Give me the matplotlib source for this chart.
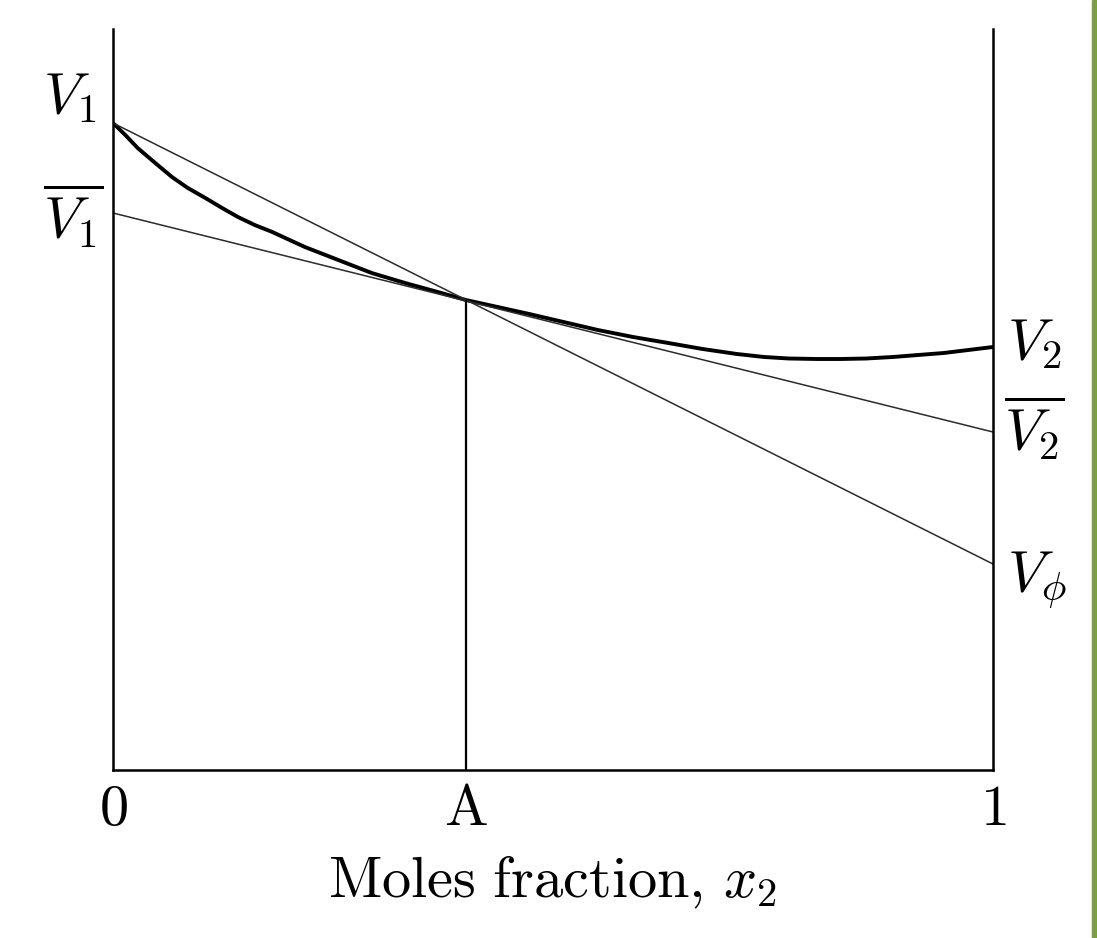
import matplotlib.pyplot as plt
from matplotlib.patches import Rectangle

plt.rcParams['mathtext.fontset'] = 'cm'
plt.rcParams['font.family'] = ['DejaVu Serif']

# Values (arbitrary volume units, axis bottom = 0)
x_A = 0.401
V1 = 6.47
V1_bar = 5.57
V2 = 4.23
V2_bar = 3.38
V_phi = 2.06
y_A = 4.70

# thick curve: molar volume vs mole fraction
curve_x = [0.0, 0.014, 0.028, 0.048, 0.067, 0.085, 0.105, 0.124, 0.142, 0.161,
           0.181, 0.218, 0.256, 0.294, 0.332, 0.369, 0.401, 0.437, 0.473, 0.512,
           0.551, 0.591, 0.631, 0.670, 0.709, 0.740, 0.768, 0.800, 0.827, 0.856,
           0.886, 0.915, 0.944, 0.972, 1.0]
curve_y = [6.47, 6.35, 6.22, 6.07, 5.93, 5.82, 5.72, 5.62, 5.53, 5.45,
           5.38, 5.23, 5.10, 4.97, 4.87, 4.78, 4.70, 4.63, 4.56, 4.48,
           4.40, 4.33, 4.27, 4.21, 4.16, 4.13, 4.115, 4.11, 4.11, 4.115,
           4.13, 4.15, 4.17, 4.20, 4.23]

tick_pos = [0, x_A, 1]
tick_labels = [r'$\mathrm{0}$', r'$\mathrm{A}$', r'$\mathrm{1}$']

fig = plt.figure(figsize=(10.97, 9.38), dpi=100)
ax = fig.add_axes([113 / 1097, (938 - 770) / 938, 880 / 1097, 741 / 938])

ax.plot(curve_x, curve_y, color='black', lw=2.8, solid_joinstyle='round',
        solid_capstyle='round')
ax.plot([0, 1], [V1_bar, V2_bar], color='#2b2b2b', lw=1.1)   # tangent at A
ax.plot([0, 1], [V1, V_phi], color='#2b2b2b', lw=1.1)        # chord
ax.vlines(x_A, 0, y_A, color='black', lw=1.6)

ax.set_xlim(0, 1)
ax.set_ylim(0, 7.41)
for side in ['left', 'right', 'bottom']:
    ax.spines[side].set_linewidth(1.8)
ax.spines['top'].set_visible(False)
ax.set_yticks([])
ax.set_xticks(tick_pos)
ax.set_xticklabels(tick_labels, fontsize=42)
ax.tick_params(axis='x', length=0, pad=8)
ax.set_xlabel(r'$\mathrm{Moles\ fraction,}\,x_2$', fontsize=42, labelpad=12)

fs = 42
ax.annotate(r'$V_1$', xy=(0, V1), xytext=(-12, 19), textcoords='offset points',
            ha='right', va='center', fontsize=fs)
ax.annotate(r'$\overline{V_1}$', xy=(0, V1_bar), xytext=(-7, -2), textcoords='offset points',
            ha='right', va='center', fontsize=fs)
ax.annotate(r'$V_2$', xy=(1, V2), xytext=(10, 3), textcoords='offset points',
            ha='left', va='center', fontsize=fs)
ax.annotate(r'$\overline{V_2}$', xy=(1, V2_bar), xytext=(8, 3), textcoords='offset points',
            ha='left', va='center', fontsize=fs)
ax.annotate(r'$V_\phi$', xy=(1, V_phi), xytext=(10, -12), textcoords='offset points',
            ha='left', va='center', fontsize=fs)

# green strip at the right edge
fig.patches.append(Rectangle((1092 / 1097, 0), 5 / 1097, 1, transform=fig.transFigure,
                             color='#79A03F', zorder=0))

fig.savefig('out.png', dpi=100)
